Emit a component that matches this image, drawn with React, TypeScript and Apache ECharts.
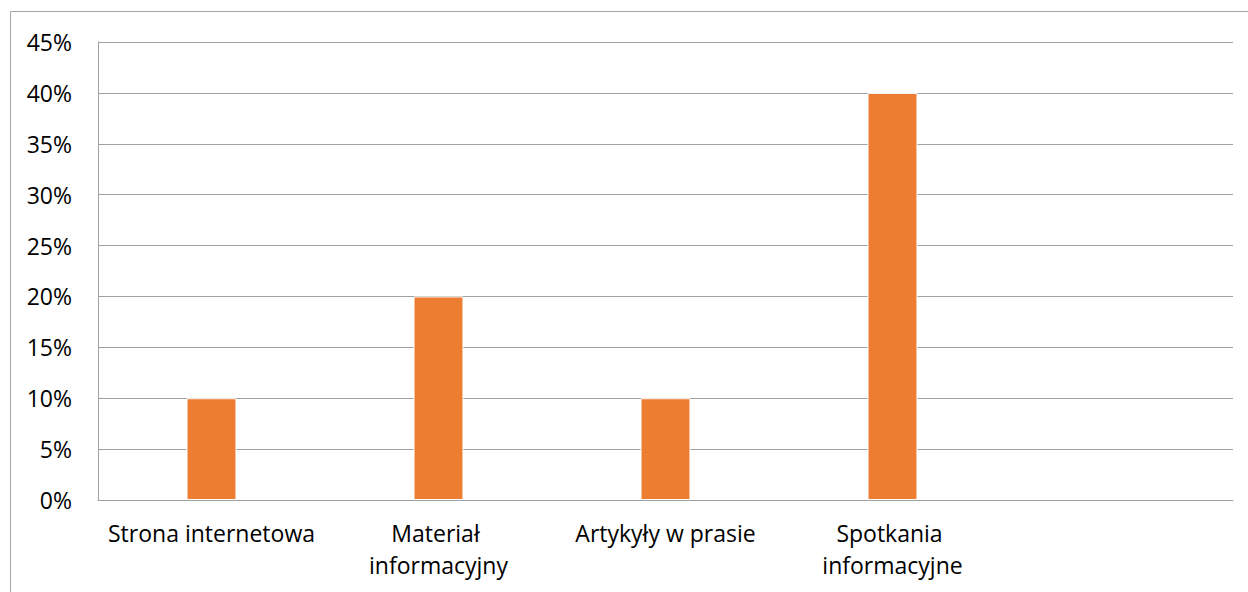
import React, { useEffect, useRef } from "react";
import * as echarts from "echarts";

const categories = [
  "Strona internetowa",
  "Materiał informacyjny",
  "Artykyły w prasie",
  "Spotkania informacyjne",
  "",
];
const values = [10, 20, 10, 40, null];
const yTicks = [0, 5, 10, 15, 20, 25, 30, 35, 40, 45];

const FONT = "'Open Sans', 'Noto Sans', sans-serif";

export default function App() {
  const ref = useRef<HTMLDivElement>(null);
  useEffect(() => {
    if (!ref.current) return;
    const chart = echarts.init(ref.current, null, { renderer: "svg" });
    chart.setOption({
      animation: false,
      backgroundColor: "#ffffff",
      graphic: [
        {
          type: "rect",
          shape: { x: 10.5, y: 11.5, width: 1400, height: 800 },
          style: { fill: "none", stroke: "#a6a6a6", lineWidth: 1 },
          silent: true,
        },
      ],
      grid: { left: 98, right: 15, top: 42, bottom: 92, containLabel: false },
      xAxis: {
        type: "category",
        data: categories,
        axisLine: { show: true, lineStyle: { color: "#a0a0a0", width: 1 } },
        axisTick: { show: false },
        axisLabel: {
          color: "#000000",
          fontFamily: FONT,
          fontSize: 23,
          lineHeight: 32,
          margin: 17,
          interval: 0,
          width: 222,
          overflow: "break",
        },
      },
      yAxis: {
        type: "value",
        min: yTicks[0],
        max: yTicks[yTicks.length - 1],
        interval: 5,
        axisLine: { show: true, lineStyle: { color: "#a0a0a0", width: 1 } },
        axisTick: { show: false },
        splitLine: { show: true, lineStyle: { color: "#a0a0a0", width: 1 } },
        axisLabel: {
          color: "#000000",
          fontFamily: FONT,
          fontSize: 23,
          margin: 26,
          formatter: (v: number) => `${v}%`,
        },
      },
      series: [
        {
          type: "bar",
          data: values,
          barWidth: "22%",
          itemStyle: { color: "#ED7D31", borderColor: "#ffffff", borderWidth: 1 },
        },
      ],
    });
    return () => chart.dispose();
  }, []);
  return (
    <div
      ref={ref}
      style={{ position: "fixed", left: 0, top: 0, width: 1248, height: 592 }}
    />
  );
}
